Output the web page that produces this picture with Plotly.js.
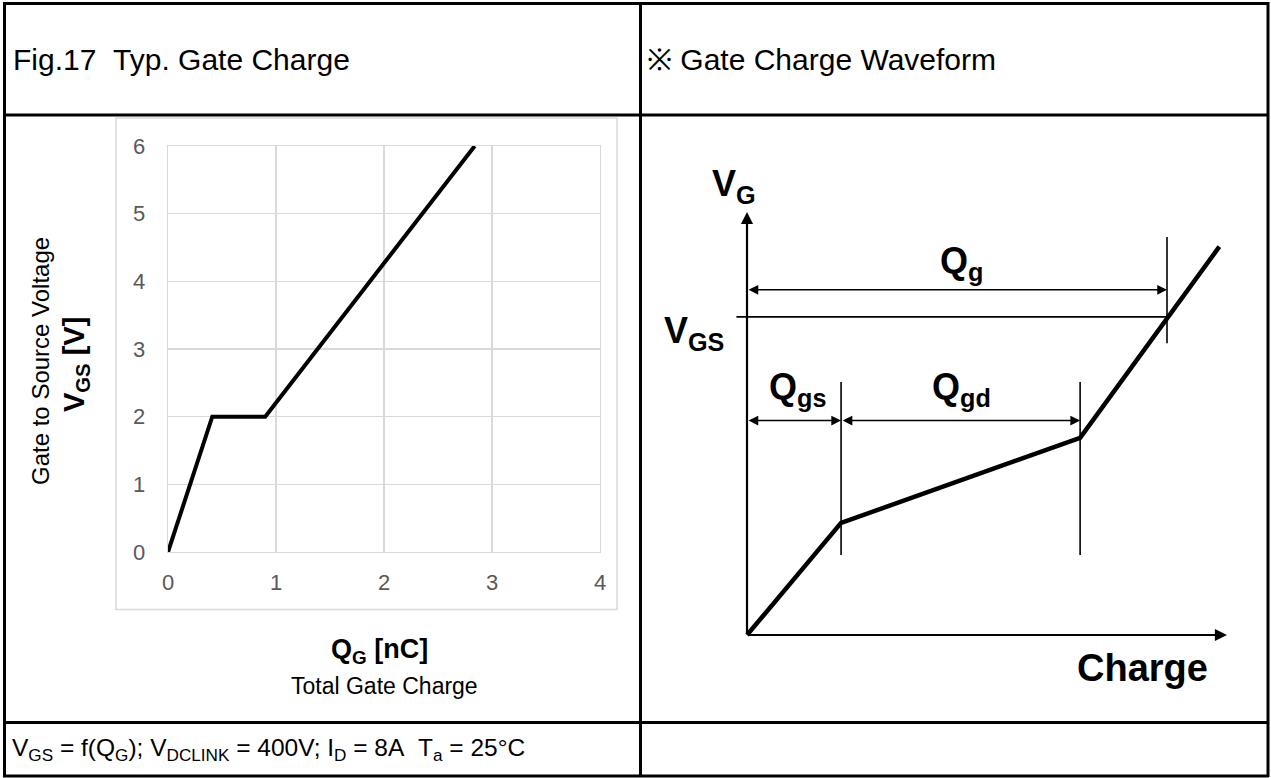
<!DOCTYPE html>
<html><head><meta charset="utf-8">
<script src="https://cdn.plot.ly/plotly-3.0.1.min.js"></script>
<style>html,body{margin:0;padding:0;background:#fff;} #chart{width:1271px;height:778px;}</style>
</head><body><div id="chart"></div>
<script>
// ---- Fig.17 Typ. Gate Charge (measured curve) ----
const qgCharge_nC = [0, 0.41, 0.90, 2.84];
const vgsVoltage_V = [0, 2, 2, 6];
const xTickVals = [0, 1, 2, 3, 4];
const yTickVals = [0, 1, 2, 3, 4, 5, 6];

// ---- Gate charge waveform (schematic, arbitrary units) ----
const waveCharge = [0, 1.96, 6.94, 9.84];
const waveVoltage = [0, 2.65, 4.66, 9.18];
const qgsEnd = 1.96, qgdEnd = 6.94, qgEnd = 8.75;
const vgsLevel = 7.52;
const qgArrowLevel = 8.16, qgsArrowLevel = 5.07;
const markerLow = [1.89, 1.89, 6.90];
const markerHigh = [5.98, 5.98, 9.41];
const markerQ = [qgsEnd, qgdEnd, qgEnd];
const axisTop = 10, axisRight = 10;

const W = 1271, H = 778;
const px = x => x / W;
const py = y => 1 - y / H;
const FONT = 'Liberation Sans, Arial, sans-serif';

// vertical marker lines with gaps
const mx = [], my = [];
markerQ.forEach((q, i) => { mx.push(q, q, null); my.push(markerLow[i], markerHigh[i], null); });

const traces = [
  { x: qgCharge_nC, y: vgsVoltage_V, xaxis: 'x', yaxis: 'y', mode: 'lines',
    line: { color: '#000', width: 4 }, hoverinfo: 'skip', showlegend: false },
  { x: waveCharge, y: waveVoltage, xaxis: 'x2', yaxis: 'y2', mode: 'lines',
    line: { color: '#000', width: 4.5 }, hoverinfo: 'skip', showlegend: false },
  { x: mx, y: my, xaxis: 'x2', yaxis: 'y2', mode: 'lines',
    line: { color: '#000', width: 1.6 }, hoverinfo: 'skip', showlegend: false },
  { x: [-0.22, qgEnd], y: [vgsLevel, vgsLevel], xaxis: 'x2', yaxis: 'y2', mode: 'lines',
    line: { color: '#000', width: 1.6 }, hoverinfo: 'skip', showlegend: false }
];

function arrow(x0, y0, x1, y1, w, both) {
  return { xref: 'x2', yref: 'y2', axref: 'x2', ayref: 'y2', x: x1, y: y1, ax: x0, ay: y0,
    text: '', showarrow: true, arrowhead: 2, arrowsize: both ? 1.3 : 1.1, arrowwidth: w,
    arrowcolor: '#000', arrowside: both ? 'end+start' : 'end', standoff: 0, startstandoff: 0 };
}
function label(text, x, y, size, opts) {
  return Object.assign({ xref: 'paper', yref: 'paper', x: px(x), y: py(y), text: text,
    showarrow: false, xanchor: 'left', yanchor: 'middle',
    font: { family: FONT, size: size, color: '#000' } }, opts || {});
}

const annotations = [
  arrow(0, 0, 0, axisTop, 2.2, false),
  arrow(0, 0, axisRight, 0, 2.2, false),
  arrow(0, qgArrowLevel, qgEnd, qgArrowLevel, 1.5, true),
  arrow(0, qgsArrowLevel, qgsEnd, qgsArrowLevel, 1.5, true),
  arrow(qgsEnd, qgsArrowLevel, qgdEnd, qgsArrowLevel, 1.5, true),
  label('Fig.17\u00a0\u00a0Typ. Gate Charge', 11, 60, 30),
  label('\u203b Gate Charge Waveform', 645, 60, 30),
  label('V<sub>GS</sub> = f(Q<sub>G</sub>); V<sub>DCLINK</sub> = 400V; I<sub>D</sub> = 8A\u00a0\u00a0T<sub>a</sub> = 25°C', 10, 749, 24.5),
  label('Gate to Source Voltage', 40, 361, 24, { textangle: -90, xanchor: 'center', yanchor: 'middle' }),
  label('<b>V<sub>GS</sub> [V]</b>', 76, 365, 29, { textangle: -90, xanchor: 'center', yanchor: 'middle' }),
  label('<b>Q<sub>G</sub> [nC]</b>', 380, 651, 27, { xanchor: 'center' }),
  label('Total Gate Charge', 384, 686, 23, { xanchor: 'center' }),
  label('<b>V<sub>G</sub></b>', 710, 186, 36),
  label('<b>Q<sub>g</sub></b>', 938, 263, 36),
  label('<b>V<sub>GS</sub></b>', 662, 333, 36),
  label('<b>Q<sub>gs</sub></b>', 767, 389, 36),
  label('<b>Q<sub>gd</sub></b>', 930, 389, 36),
  label('<b>Charge</b>', 1075, 668, 38)
];

const K = '#000';
function hline(y, x0, x1, w) { return { type: 'line', xref: 'paper', yref: 'paper', x0: px(x0), x1: px(x1), y0: py(y), y1: py(y), line: { color: K, width: w } }; }
function vline(x, y0, y1, w) { return { type: 'line', xref: 'paper', yref: 'paper', x0: px(x), x1: px(x), y0: py(y0), y1: py(y1), line: { color: K, width: w } }; }

const shapes = [
  { type: 'rect', xref: 'paper', yref: 'paper', x0: px(116), x1: px(617), y0: py(118), y1: py(609.5),
    line: { color: '#d9d9d9', width: 1.5 }, fillcolor: 'rgba(0,0,0,0)', layer: 'below' },
  hline(3.5, 3, 1268.5, 3), hline(115, 3, 1268.5, 3), hline(722.5, 3, 1268.5, 3), hline(776, 3, 1268.5, 3),
  vline(4.5, 2, 777, 3), vline(640.5, 2, 777, 3), vline(1268, 2, 777, 3)
];

const layout = {
  width: W, height: H, margin: { l: 0, r: 0, t: 0, b: 0 },
  paper_bgcolor: '#fff', plot_bgcolor: '#fff', showlegend: false,
  xaxis: {
    domain: [px(168), px(600)], range: [0, 4], tickmode: 'array', tickvals: xTickVals, anchor: 'y',
    showgrid: true, gridcolor: '#d9d9d9', gridwidth: 1.4, zeroline: false,
    showline: true, linecolor: '#d9d9d9', linewidth: 1.4, mirror: true,
    ticks: 'outside', ticklen: 10, tickcolor: 'rgba(0,0,0,0)', fixedrange: true,
    tickfont: { family: 'Liberation Sans', size: 22, color: '#595959' }
  },
  yaxis: {
    domain: [py(552), py(146)], range: [0, 6], tickmode: 'array', tickvals: yTickVals, anchor: 'x',
    showgrid: true, gridcolor: '#d9d9d9', gridwidth: 1.4, zeroline: false,
    showline: true, linecolor: '#d9d9d9', linewidth: 1.4, mirror: true,
    ticks: 'outside', ticklen: 17, tickcolor: 'rgba(0,0,0,0)', fixedrange: true,
    tickfont: { family: 'Liberation Sans', size: 22, color: '#595959' }
  },
  xaxis2: { domain: [px(641), px(1266)], range: [(641 - 747) / 48, (1266 - 747) / 48], visible: false, anchor: 'y2', fixedrange: true },
  yaxis2: { domain: [py(721), py(117)], range: [-(721 - 635) / 42.3, (635 - 117) / 42.3], visible: false, anchor: 'x2', fixedrange: true },
  annotations: annotations,
  shapes: shapes
};

Plotly.newPlot('chart', traces, layout, { displayModeBar: false, staticPlot: true });
</script></body></html>
